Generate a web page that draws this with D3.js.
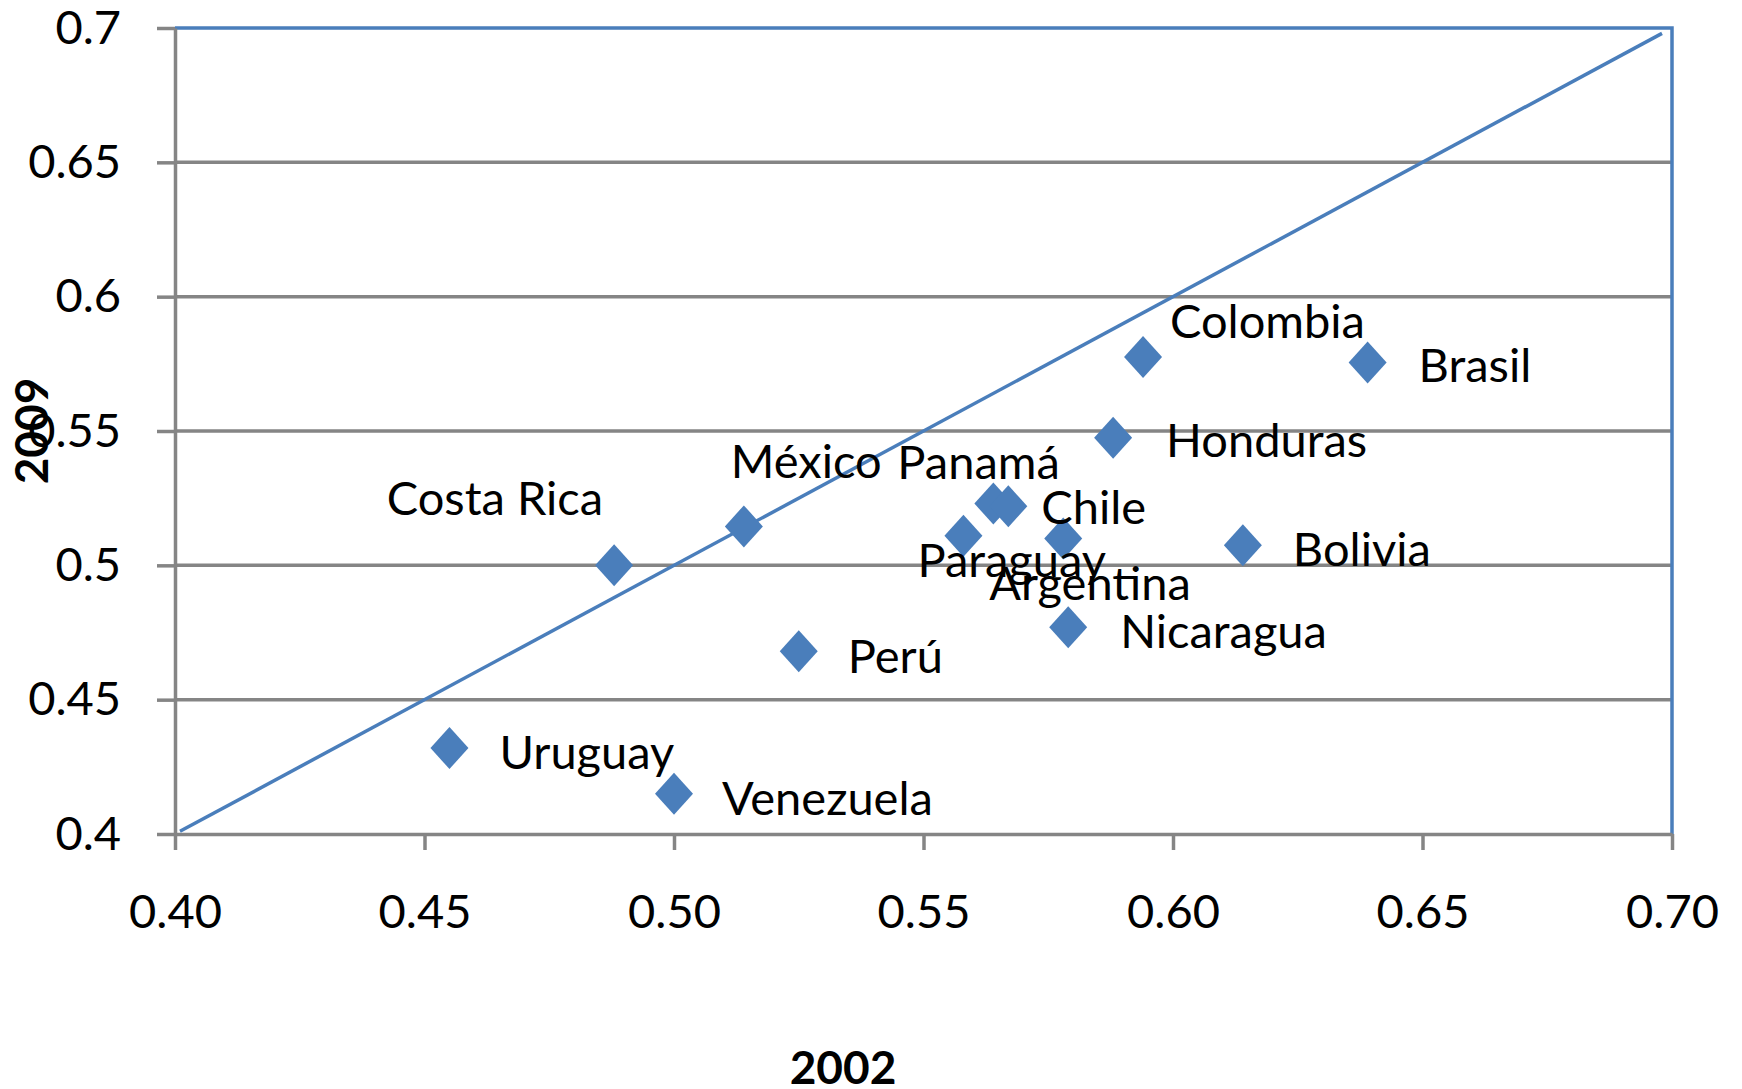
<!DOCTYPE html>
<html>
<head>
<meta charset="utf-8">
<script src="https://cdn.jsdelivr.net/npm/d3@7"></script>
<style>
  body { margin: 0; background: #fff; }
  text { font-family: Lato, "Open Sans", sans-serif; fill: #000; }
</style>
</head>
<body>
<div id="chart"></div>
<script>
// datos: índice 2002 vs 2009
const countries = ["Costa Rica", "México", "Panamá", "Chile", "Paraguay", "Argentina", "Nicaragua",
    "Colombia", "Brasil", "Honduras", "Bolivia", "Perú", "Uruguay", "Venezuela"];
const values2002 = [0.488, 0.514, 0.564, 0.567, 0.558, 0.578, 0.579, 0.594, 0.639, 0.588, 0.614, 0.525, 0.455, 0.500];
const values2009 = [0.500, 0.5145, 0.523, 0.522, 0.511, 0.510, 0.477, 0.5775, 0.5755, 0.5475, 0.5075, 0.468, 0.432, 0.415];
const xTicks = [0.40, 0.45, 0.50, 0.55, 0.60, 0.65, 0.70];
const yTicks = [0.40, 0.45, 0.50, 0.55, 0.60, 0.65, 0.70];
const diagLine = [0.401, 0.698];

// posición de etiquetas (px desde el punto)
const labelDx = [-11, -13, -96, 33, -46, -74, 52, 27, 51, 53, 50, 49, 50, 48];
const labelDy = [-67, -65, -41, 1, 24, 45, 4, -36, 3, 2, 4, 5, 4, 4];
const labelAnchor = ["end", "start", "start", "start", "start", "start", "start",
    "start", "start", "start", "start", "start", "start", "start"];

const margin = { top: 28, right: 70, bottom: 255, left: 175 };
const width = 1742 - margin.left - margin.right;
const height = 1089 - margin.top - margin.bottom;
const blue = "#4a7ebb";
const gray = "#858585";

const svg = d3.select("#chart")
    .append("svg")
    .attr("width", 1742)
    .attr("height", 1089)
    .append("g")
    .attr("transform", `translate(${margin.left},${margin.top})`);

const x = d3.scaleLinear().domain([0.40, 0.70]).range([0, width]);
const y = d3.scaleLinear().domain([0.40, 0.70]).range([height, 0]);

// líneas de cuadrícula
svg.selectAll(".grid")
    .data(yTicks.slice(1, -1))
    .enter().append("line")
    .attr("x1", 0).attr("x2", width)
    .attr("y1", d => y(d)).attr("y2", d => y(d))
    .style("stroke", gray)
    .style("stroke-width", 3.5);

// borde superior y derecho
svg.append("path")
    .attr("d", `M0,${y(0.70)}H${x(0.70)}V${y(0.40)}`)
    .style("fill", "none")
    .style("stroke", blue)
    .style("stroke-width", 3.5);

const yAxis = svg.append("g")
    .call(d3.axisLeft(y).tickValues(yTicks).tickSize(18).tickSizeOuter(0).tickPadding(36)
        .tickFormat(d => String(+d.toFixed(2))));

const xAxis = svg.append("g")
    .attr("transform", `translate(0,${height})`)
    .call(d3.axisBottom(x).tickValues(xTicks).tickSize(16).tickSizeOuter(0).tickPadding(45)
        .tickFormat(d => d.toFixed(2)));

[xAxis, yAxis].forEach(a => {
    a.select(".domain").style("stroke", gray).style("stroke-width", 3.5);
    a.selectAll(".tick line").style("stroke", gray).style("stroke-width", 3.5);
    a.selectAll("text").style("font-size", "47px").style("font-family", "Lato, sans-serif");
});

// línea de 45 grados
svg.append("path")
    .datum(diagLine)
    .attr("d", d3.line().x(d => x(d)).y(d => y(d)))
    .style("fill", "none")
    .style("stroke", blue)
    .style("stroke-width", 3.5);

// puntos
const pts = countries.map((c, i) => ({ name: c, x: values2002[i], y: values2009[i], i: i }));

svg.selectAll(".pt")
    .data(pts)
    .enter().append("path")
    .attr("class", "pt")
    .attr("transform", d => `translate(${x(d.x)},${y(d.y)})`)
    .attr("d", "M0,-21L19,0L0,21L-19,0Z")
    .style("fill", blue);

svg.selectAll(".lbl")
    .data(pts)
    .enter().append("text")
    .attr("class", "lbl")
    .attr("x", d => x(d.x) + labelDx[d.i])
    .attr("y", d => y(d.y) + labelDy[d.i])
    .attr("dy", "0.36em")
    .attr("text-anchor", d => labelAnchor[d.i])
    .style("font-size", "47px")
    .text(d => d.name);

// títulos de ejes
svg.append("text")
    .attr("x", 843 - margin.left)
    .attr("y", 1084 - margin.top)
    .attr("text-anchor", "middle")
    .style("font-size", "46px")
    .style("font-weight", "bold")
    .text("2002");

svg.append("text")
    .attr("transform", "rotate(-90)")
    .attr("x", -(431 - margin.top))
    .attr("y", 48 - margin.left)
    .attr("text-anchor", "middle")
    .style("font-size", "46px")
    .style("font-weight", "bold")
    .text("2009");
</script>
</body>
</html>
